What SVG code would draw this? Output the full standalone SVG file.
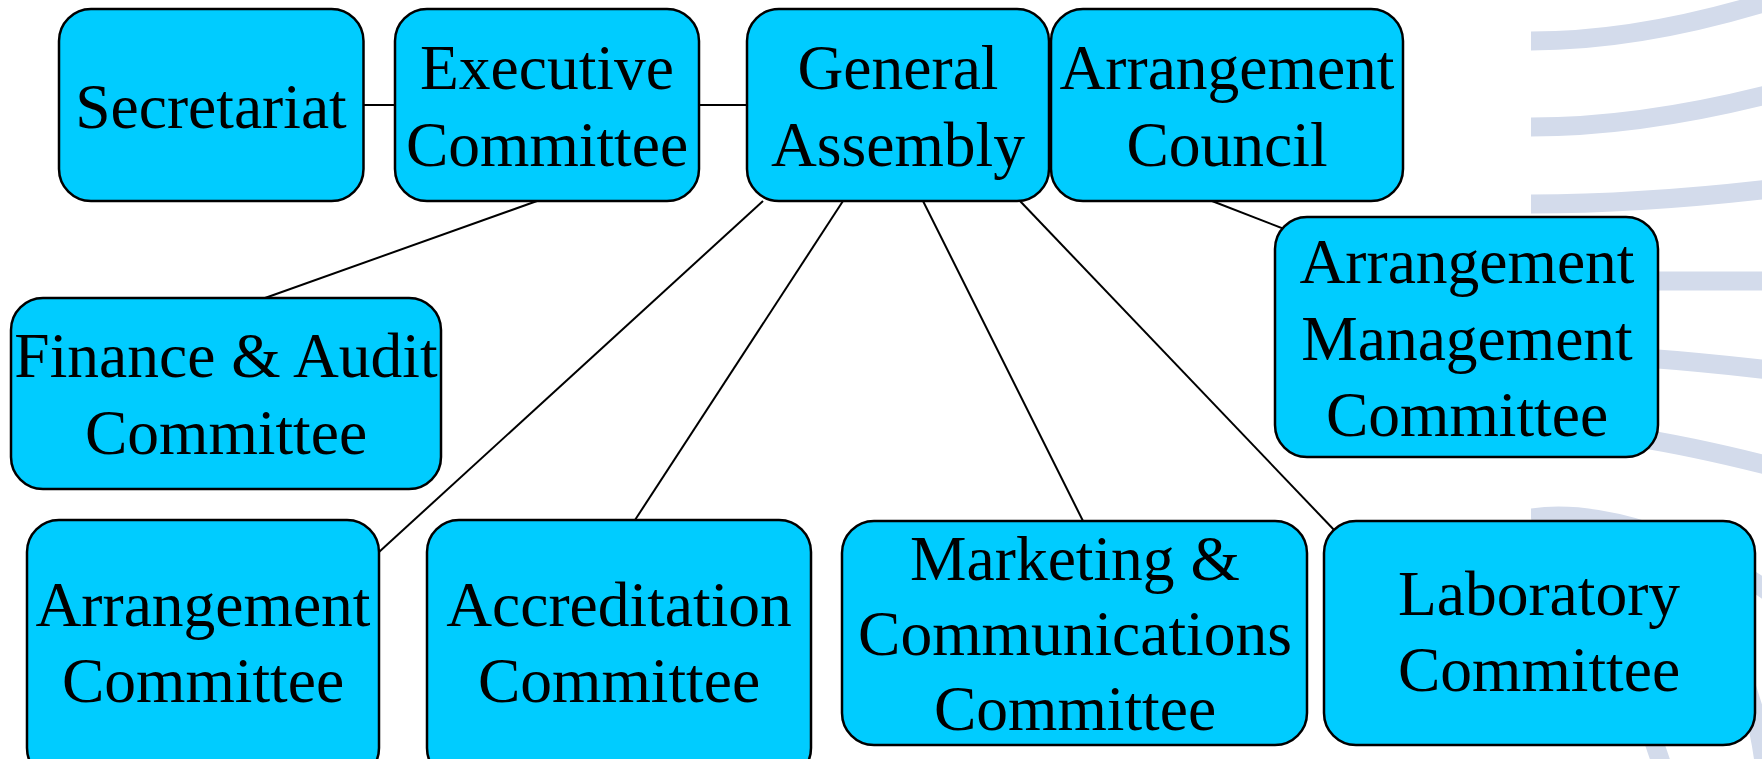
<svg xmlns="http://www.w3.org/2000/svg" width="1762" height="759" viewBox="0 0 1762 759">
<style>
.bg{fill:none;stroke:#d3dbeb;stroke-width:19}
.box{fill:#00ccff;stroke:#000;stroke-width:2.5}
.lbl{font-family:"Liberation Serif","Times New Roman",serif;font-size:63.5px;fill:#000;text-anchor:middle}
.con line{stroke:#000;stroke-width:2}
</style>
<defs>
<clipPath id="clipArcs"><rect x="1531" y="0" width="231" height="759"/></clipPath>
</defs>
<rect x="0" y="0" width="1762" height="759" fill="#fff"/>
<g id="background" clip-path="url(#clipArcs)">
<path class="bg" d="M1531,41 Q1640,41 1770,1"/>
<path class="bg" d="M1531,127 Q1640,127 1770,94"/>
<path class="bg" d="M1531,204 Q1640,204 1770,189"/>
<path class="bg" d="M1531,281 L1770,281"/>
<path class="bg" d="M1531,352 Q1640,355 1770,370"/>
<path class="bg" d="M1531,428 Q1620,428 1770,466"/>
<path class="bg" d="M1531,518 C1600,508 1700,540 1780,600"/>
<path class="bg" d="M1531,540 C1650,545 1745,600 1765,770"/>
<path class="bg" d="M1531,580 C1600,600 1635,680 1665,775"/>
</g>
<g id="connectors" class="con">
<line x1="363" y1="105" x2="395" y2="105"/>
<line x1="699" y1="105" x2="747" y2="105"/>
<line x1="537" y1="201" x2="265" y2="298"/>
<line x1="763" y1="201" x2="379" y2="552"/>
<line x1="843" y1="201" x2="635" y2="520"/>
<line x1="923" y1="201" x2="1083" y2="521"/>
<line x1="1020" y1="201" x2="1337" y2="533"/>
<line x1="1212" y1="201" x2="1292" y2="232"/>
</g>
<g id="secretariat">
<rect class="box" x="59" y="9" width="304.5" height="192" rx="32"/>
<text class="lbl" x="211" y="128">Secretariat</text>
</g>
<g id="executive-committee">
<rect class="box" x="395" y="9" width="304" height="192" rx="32"/>
<text class="lbl" x="547" y="89">Executive</text>
<text class="lbl" x="547" y="166">Committee</text>
</g>
<g id="general-assembly">
<rect class="box" x="747" y="9" width="302" height="192" rx="32"/>
<text class="lbl" x="898" y="89">General</text>
<text class="lbl" x="898" y="166">Assembly</text>
</g>
<g id="arrangement-council">
<rect class="box" x="1051" y="9" width="352" height="192" rx="32"/>
<text class="lbl" x="1227" y="89">Arrangement</text>
<text class="lbl" x="1227" y="166">Council</text>
</g>
<g id="arrangement-management-committee">
<rect class="box" x="1275" y="217" width="383" height="240" rx="32"/>
<text class="lbl" x="1467" y="283">Arrangement</text>
<text class="lbl" x="1467" y="360">Management</text>
<text class="lbl" x="1467" y="436">Committee</text>
</g>
<g id="finance-audit-committee">
<rect class="box" x="11" y="298" width="430" height="191" rx="32"/>
<text class="lbl" x="226" y="377">Finance &amp; Audit</text>
<text class="lbl" x="226" y="454">Committee</text>
</g>
<g id="arrangement-committee">
<rect class="box" x="27" y="520" width="352" height="260" rx="32"/>
<text class="lbl" x="203" y="626">Arrangement</text>
<text class="lbl" x="203" y="702">Committee</text>
</g>
<g id="accreditation-committee">
<rect class="box" x="427" y="520" width="384" height="260" rx="32"/>
<text class="lbl" x="619" y="626">Accreditation</text>
<text class="lbl" x="619" y="702">Committee</text>
</g>
<g id="marketing-communications-committee">
<rect class="box" x="842" y="521" width="465" height="224" rx="32"/>
<text class="lbl" x="1075" y="580">Marketing &amp;</text>
<text class="lbl" x="1075" y="655">Communications</text>
<text class="lbl" x="1075" y="730">Committee</text>
</g>
<g id="laboratory-committee">
<rect class="box" x="1324" y="521" width="431" height="224" rx="32"/>
<text class="lbl" x="1539" y="615">Laboratory</text>
<text class="lbl" x="1539" y="691">Committee</text>
</g>
</svg>
